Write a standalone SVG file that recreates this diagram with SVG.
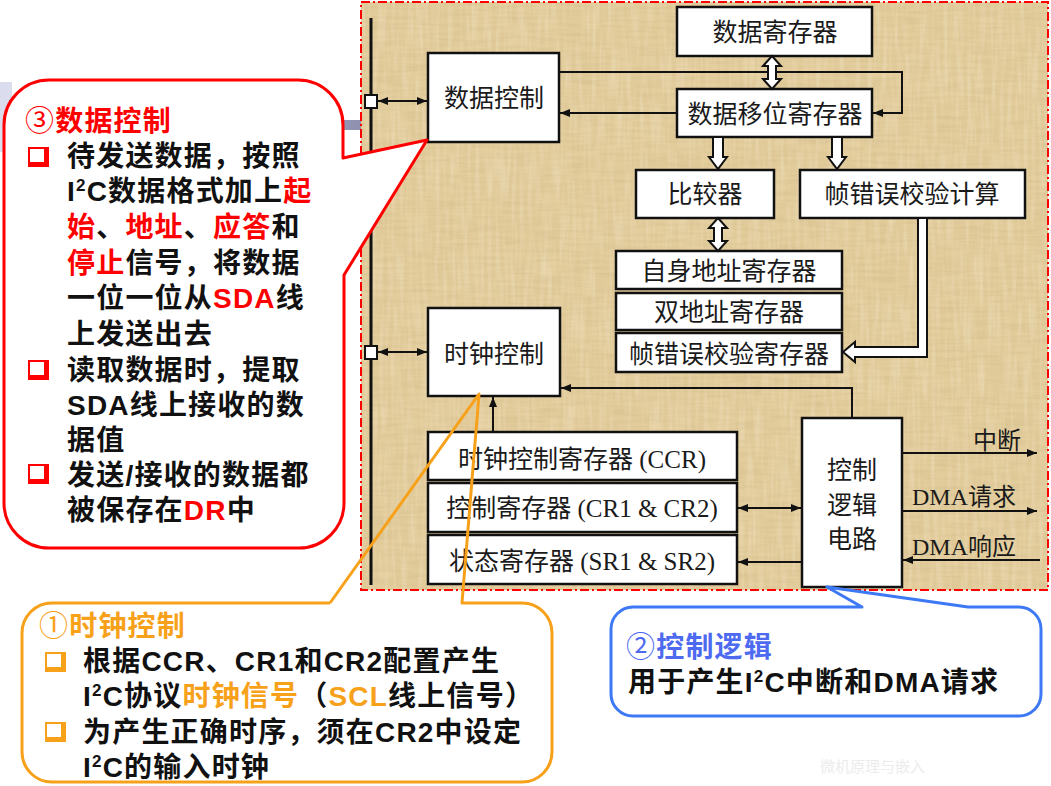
<svg xmlns="http://www.w3.org/2000/svg" width="1051" height="786" viewBox="0 0 1051 786">
  <defs>
    <style>
      .box { fill: #ffffff; stroke: #111111; stroke-width: 2.5; }
      .bt { font-family: "Liberation Serif", "Noto Sans CJK SC", serif; font-size: 25px; fill: #1a1a1a; text-anchor: middle; }
      .lbl { font-family: "Liberation Serif", "Noto Sans CJK SC", serif; font-size: 24px; fill: #1a1a1a; }
      .wire { fill: none; stroke: #111111; stroke-width: 2; }
      .hollow { fill: #ffffff; stroke: #111111; stroke-width: 2; stroke-linejoin: miter; }
      .ct { font-family: "Liberation Sans", "Noto Sans CJK SC", sans-serif; font-weight: bold; font-size: 28px; letter-spacing: 1.2px; fill: #111111; }
      .num { font-family: "Noto Sans CJK SC", sans-serif; font-weight: normal; font-size: 29px; }
      .sup { font-size: 17px; }
      .red { fill: #ff0000; }
      .org { fill: #f7a11a; }
      .blu { fill: #4d6af0; }
    </style>
    <marker id="ah" viewBox="0 0 10 8" refX="10" refY="4" markerWidth="10" markerHeight="8" markerUnits="userSpaceOnUse" orient="auto-start-reverse">
      <path d="M0,0 L10,4 L0,8 Z" fill="#111111"/>
    </marker>
    <!-- square bullet with a drop edge on the right and bottom -->
    <g id="bullet">
      <rect x="0" y="0" width="21" height="20" fill="currentColor"/>
      <rect x="2" y="2" width="14" height="13" fill="#ffffff"/>
    </g>
    <filter id="grain" x="0" y="0" width="1" height="1">
      <feTurbulence type="fractalNoise" baseFrequency="0.03 0.3" numOctaves="2" seed="7" result="n"/>
      <feColorMatrix in="n" type="matrix" values="0 0 0 0 0.52  0 0 0 0 0.40  0 0 0 0 0.18  0.5 0 0 0 -0.18"/>
    </filter>
    <filter id="sheen" x="0" y="0" width="1" height="1">
      <feTurbulence type="fractalNoise" baseFrequency="0.25 0.02" numOctaves="2" seed="3" result="n"/>
      <feColorMatrix in="n" type="matrix" values="0 0 0 0 1  0 0 0 0 0.96  0 0 0 0 0.85  0 0.5 0 0 -0.2"/>
    </filter>
    <linearGradient id="band" x1="0" y1="0" x2="1" y2="0">
      <stop offset="0" stop-color="#d6d6ec"/>
      <stop offset="1" stop-color="#8f8fb0"/>
    </linearGradient>
  </defs>

  <rect width="1051" height="786" fill="#ffffff"/>

  <!-- slide decoration behind the left callout -->
  <g id="slide-band">
    <rect x="0" y="120" width="362" height="10" fill="url(#band)"/>
    <rect x="0" y="82" width="12" height="70" fill="#dcdcef"/>
    <rect x="9" y="100" width="6" height="10" fill="#2b2b7a"/>
  </g>

  <!-- parchment panel with dash-dot frame -->
  <g id="panel">
    <rect x="361" y="2" width="687" height="588" fill="#e3cc9b"/>
    <rect x="361" y="2" width="687" height="588" filter="url(#grain)"/>
    <rect x="361" y="2" width="687" height="588" filter="url(#sheen)"/>
    <rect x="361" y="2" width="687" height="588" fill="none" stroke="#ff0000" stroke-width="2" stroke-dasharray="9 3 2 3"/>
  </g>

  <!-- system bus -->
  <g id="bus">
    <line x1="371" y1="18" x2="371" y2="585" stroke="#111111" stroke-width="3"/>
    <rect x="365" y="95" width="12" height="13" fill="#ffffff" stroke="#111111" stroke-width="2"/>
    <rect x="365" y="346" width="12" height="13" fill="#ffffff" stroke="#111111" stroke-width="2"/>
  </g>

  <g id="node-data-ctrl">
    <rect class="box" x="428" y="53" width="131" height="89"/>
    <text class="bt" x="494" y="107">数据控制</text>
  </g>
  <g id="node-data-reg">
    <rect class="box" x="677" y="7" width="195" height="49"/>
    <text class="bt" x="775" y="41">数据寄存器</text>
  </g>
  <g id="node-shift-reg">
    <rect class="box" x="677" y="89" width="195" height="48"/>
    <text class="bt" x="775" y="123">数据移位寄存器</text>
  </g>
  <g id="node-comparator">
    <rect class="box" x="636" y="170" width="138" height="48"/>
    <text class="bt" x="705" y="203">比较器</text>
  </g>
  <g id="node-crc-calc">
    <rect class="box" x="800" y="170" width="225" height="48"/>
    <text class="bt" x="912" y="203">帧错误校验计算</text>
  </g>
  <g id="node-own-addr">
    <rect class="box" x="616" y="251" width="226" height="38"/>
    <text class="bt" x="729" y="280">自身地址寄存器</text>
  </g>
  <g id="node-dual-addr">
    <rect class="box" x="616" y="293" width="226" height="37"/>
    <text class="bt" x="729" y="321">双地址寄存器</text>
  </g>
  <g id="node-crc-reg">
    <rect class="box" x="616" y="333" width="226" height="39"/>
    <text class="bt" x="729" y="363">帧错误校验寄存器</text>
  </g>
  <g id="node-clock-ctrl">
    <rect class="box" x="428" y="308" width="132" height="88"/>
    <text class="bt" x="494" y="363">时钟控制</text>
  </g>
  <g id="node-ccr">
    <rect class="box" x="428" y="432" width="309" height="48"/>
    <text class="bt" x="582" y="468">时钟控制寄存器 (CCR)</text>
  </g>
  <g id="node-cr">
    <rect class="box" x="428" y="483" width="309" height="49"/>
    <text class="bt" x="582" y="517">控制寄存器 (CR1 &amp; CR2)</text>
  </g>
  <g id="node-sr">
    <rect class="box" x="428" y="535" width="309" height="49"/>
    <text class="bt" x="582" y="570">状态寄存器 (SR1 &amp; SR2)</text>
  </g>
  <g id="node-ctrl-logic">
    <rect class="box" x="802" y="418" width="100" height="169"/>
    <text class="bt" x="852" y="479">控制</text>
    <text class="bt" x="852" y="514">逻辑</text>
    <text class="bt" x="852" y="548">电路</text>
  </g>

  <g id="connectors">
    <line class="wire" x1="378" y1="101" x2="427" y2="101" marker-start="url(#ah)" marker-end="url(#ah)"/>
    <line class="wire" x1="378" y1="352" x2="427" y2="352" marker-start="url(#ah)" marker-end="url(#ah)"/>
    <polyline class="wire" points="560,72 902,72 902,113 873,113" marker-end="url(#ah)"/>
    <line class="wire" x1="677" y1="113" x2="560" y2="113" marker-end="url(#ah)"/>
    <polyline class="wire" points="852,418 852,388 561,388" marker-end="url(#ah)"/>
    <line class="wire" x1="493" y1="432" x2="493" y2="397" marker-end="url(#ah)"/>
    <line class="wire" x1="738" y1="508" x2="801" y2="508" marker-start="url(#ah)" marker-end="url(#ah)"/>
    <line class="wire" x1="802" y1="562" x2="738" y2="562" marker-end="url(#ah)"/>
    <line class="wire" x1="903" y1="453" x2="1037" y2="453" marker-end="url(#ah)"/>
    <line class="wire" x1="903" y1="511" x2="1037" y2="511" marker-end="url(#ah)"/>
    <line class="wire" x1="1040" y1="560" x2="903" y2="560" marker-end="url(#ah)"/>
    <!-- wide data-path arrows -->
    <path class="hollow" d="M772,56 L781,66 L776,66 L776,79 L781,79 L772,89 L763,79 L768,79 L768,66 L763,66 Z"/>
    <path class="hollow" d="M713,137 L713,157 L709,157 L718,169 L727,157 L723,157 L723,137 Z"/>
    <path class="hollow" d="M832,137 L832,157 L828,157 L837,169 L846,157 L842,157 L842,137 Z"/>
    <path class="hollow" d="M718,218 L727,228 L722,228 L722,241 L727,241 L718,251 L709,241 L714,241 L714,228 L709,228 Z"/>
    <path class="hollow" d="M918,218 L918,347 L855,347 L855,342 L843,352 L855,362 L855,357 L927,357 L927,218 Z"/>
  </g>

  <g id="label-outputs">
    <text class="lbl" x="973" y="449">中断</text>
    <text class="lbl" x="912" y="505">DMA请求</text>
    <text class="lbl" x="912" y="555">DMA响应</text>
  </g>

  <!-- callout: data control -->
  <g id="callout-data">
    <path d="M49,80 H298 A45,45 0 0 1 343,125 V158 L427,140 L344,275 V503 A45,45 0 0 1 299,548 H49 A45,45 0 0 1 4,503 V125 A45,45 0 0 1 49,80 Z" fill="#ffffff" stroke="#ff0000" stroke-width="3" stroke-linejoin="round"/>
    <text class="ct red" x="25" y="131"><tspan class="num">③</tspan>数据控制</text>
    <use href="#bullet" x="28" y="147" color="#ff0000"/>
    <use href="#bullet" x="28" y="360" color="#ff0000"/>
    <use href="#bullet" x="28" y="464" color="#ff0000"/>
    <text class="ct" x="67" y="166">待发送数据，按照</text>
    <text class="ct" x="67" y="201">I<tspan class="sup" dy="-10">2</tspan><tspan dy="10">C数据格式加上</tspan><tspan class="red">起</tspan></text>
    <text class="ct" x="67" y="237"><tspan class="red">始</tspan>、<tspan class="red">地址</tspan>、<tspan class="red">应答</tspan>和</text>
    <text class="ct" x="67" y="273"><tspan class="red">停止</tspan>信号，将数据</text>
    <text class="ct" x="67" y="308">一位一位从<tspan class="red">SDA</tspan>线</text>
    <text class="ct" x="67" y="344">上发送出去</text>
    <text class="ct" x="67" y="380">读取数据时，提取</text>
    <text class="ct" x="67" y="415">SDA线上接收的数</text>
    <text class="ct" x="67" y="450">据值</text>
    <text class="ct" x="67" y="485">发送/接收的数据都</text>
    <text class="ct" x="67" y="520">被保存在<tspan class="red">DR</tspan>中</text>
  </g>

  <!-- callout: clock control -->
  <g id="callout-clock">
    <rect x="22" y="603" width="530" height="179" rx="30" fill="#ffffff"/>
    <path d="M330,603 H52 A30,30 0 0 0 22,633 V752 A30,30 0 0 0 52,782 H522 A30,30 0 0 0 552,752 V633 A30,30 0 0 0 522,603 H462 L479,394 L330,603" fill="none" stroke="#f7a11a" stroke-width="3" stroke-linejoin="round"/>
    <text class="ct org" x="39" y="636"><tspan class="num">①</tspan>时钟控制</text>
    <use href="#bullet" x="45" y="652" color="#f7a11a"/>
    <use href="#bullet" x="45" y="722" color="#f7a11a"/>
    <text class="ct" x="83" y="671">根据CCR、CR1和CR2配置产生</text>
    <text class="ct" x="83" y="706">I<tspan class="sup" dy="-10">2</tspan><tspan dy="10">C协议</tspan><tspan class="org">时钟信号</tspan>（<tspan class="org">SCL</tspan>线上信号）</text>
    <text class="ct" x="83" y="742">为产生正确时序，须在CR2中设定</text>
    <text class="ct" x="83" y="777">I<tspan class="sup" dy="-10">2</tspan><tspan dy="10">C的输入时钟</tspan></text>
  </g>

  <!-- callout: control logic -->
  <g id="callout-logic">
    <path d="M862,607 L827,587 L968,607 H1019 A22,22 0 0 1 1041,629 V694 A22,22 0 0 1 1019,716 H633 A22,22 0 0 1 611,694 V629 A22,22 0 0 1 633,607 Z" fill="#ffffff" stroke="#3d78f5" stroke-width="3" stroke-linejoin="round"/>
    <text class="ct blu" x="626" y="657"><tspan class="num">②</tspan>控制逻辑</text>
    <text class="ct" x="628" y="692">用于产生I<tspan class="sup" dy="-10">2</tspan><tspan dy="10">C中断和DMA请求</tspan></text>
  </g>

  <text x="820" y="772" font-family="Liberation Sans, Noto Sans CJK SC, sans-serif" font-size="15" fill="#ececec">微机原理与嵌入</text>
</svg>
